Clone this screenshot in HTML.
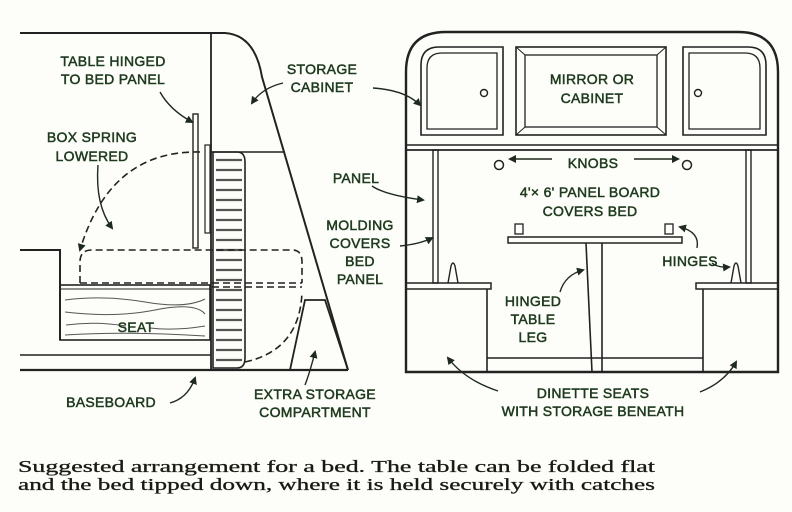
<!DOCTYPE html>
<html><head><meta charset="utf-8"><style>
html,body{margin:0;padding:0;background:#fdfdf9;}
svg{display:block}
.l{font-family:"Liberation Sans",sans-serif;font-size:14px;fill:#1e3a1e;stroke:#1e3a1e;stroke-width:0.5;text-anchor:middle;letter-spacing:0.3px}
.c{font-family:"Liberation Serif",serif;font-size:17px;fill:#1a1a14;stroke:#1a1a14;stroke-width:0.3}
</style></head><body>
<svg width="792" height="512" viewBox="0 0 792 512" xmlns="http://www.w3.org/2000/svg">
<defs><marker id="a" markerWidth="8" markerHeight="8" refX="6" refY="4" orient="auto" markerUnits="userSpaceOnUse"><path d="M0,0 L8,4 L0,8 z" fill="#1e2a1e"/></marker></defs>
<rect width="792" height="512" fill="#fdfdf9"/>
<g stroke="#222" stroke-width="2" fill="none">
<path d="M20,33 H225 Q255,35 262,77 L348,370"/>
<line x1="211" y1="33" x2="211" y2="370" stroke-width="1.8"/>
<line x1="211" y1="152" x2="285" y2="152" stroke-width="1.5"/>
<path d="M20,250 H60 V340"/>
<rect x="60" y="285" width="150" height="55" stroke-width="1.6"/>
<line x1="60" y1="289" x2="210" y2="289" stroke-width="1"/>
<g stroke-width="1" stroke="#555">
<path d="M65,300 q40,-5 80,2 t60,-3"/><path d="M65,312 q50,6 90,-2 t50,4"/><path d="M66,325 q30,-4 60,1"/><path d="M150,328 q25,3 55,-2"/><path d="M65,335 q60,-4 140,1"/>
</g>
<line x1="20" y1="355" x2="211" y2="355" stroke-width="1.6"/>
<line x1="20" y1="370" x2="348" y2="370" stroke-width="2.2"/>
<rect x="193" y="114" width="5" height="134" stroke-width="1.4"/>
<rect x="205" y="145" width="5" height="88" stroke-width="1.2"/>
<path d="M213,152 H237 Q245,152 245,162 V358 Q245,368 237,368 H213 z" stroke-width="1.6"/>
<g stroke-width="2.2" stroke="#555">
<line x1="216" y1="160" x2="242" y2="160"/><line x1="216" y1="170" x2="242" y2="170"/><line x1="216" y1="180" x2="242" y2="180"/><line x1="216" y1="190" x2="242" y2="190"/><line x1="216" y1="200" x2="242" y2="200"/><line x1="216" y1="210" x2="242" y2="210"/><line x1="216" y1="220" x2="242" y2="220"/><line x1="216" y1="230" x2="242" y2="230"/><line x1="216" y1="240" x2="242" y2="240"/><line x1="216" y1="250" x2="242" y2="250"/><line x1="216" y1="260" x2="242" y2="260"/><line x1="216" y1="270" x2="242" y2="270"/><line x1="216" y1="280" x2="242" y2="280"/><line x1="216" y1="290" x2="242" y2="290"/><line x1="216" y1="300" x2="242" y2="300"/><line x1="216" y1="310" x2="242" y2="310"/><line x1="216" y1="320" x2="242" y2="320"/><line x1="216" y1="330" x2="242" y2="330"/><line x1="216" y1="340" x2="242" y2="340"/><line x1="216" y1="350" x2="242" y2="350"/><line x1="216" y1="360" x2="242" y2="360"/>
</g>
<g stroke-dasharray="7,4" stroke-width="1.6">
<path d="M80,283 V262 Q80,250 92,250 H292 Q302,250 302,262 V283"/>
<line x1="80" y1="283" x2="302" y2="283"/>
<line x1="212" y1="287" x2="302" y2="287"/>
<path d="M200,152 Q110,150 80,250" marker-end="url(#a)"/>
<path d="M245,362 Q300,350 302,292"/>
</g>
<path d="M290,370 L305,300 H325 L348,370" stroke-width="1.8"/>
<path d="M406,372 V72 Q406,32 446,32 H738 Q778,32 778,72 V372 z" stroke-width="2.4"/>
<line x1="406" y1="145" x2="778" y2="145" stroke-width="1.5"/>
<line x1="406" y1="150" x2="778" y2="150" stroke-width="1.8"/>
<path d="M421,135 V65 Q421,47 439,47 H503 V135 z" stroke-width="1.6"/>
<path d="M427,129 V68 Q427,53 442,53 H497 V129 z" stroke-width="1.3"/>
<circle cx="484" cy="93" r="3.5" stroke-width="1.4"/>
<rect x="516" y="47" width="150" height="88" stroke-width="1.6"/>
<rect x="525" y="55" width="132" height="72" stroke-width="1.3"/>
<path d="M516,47 L525,55 M666,47 L657,55 M516,135 L525,127 M666,135 L657,127" stroke-width="1"/>
<path d="M683,135 V47 H748 Q766,47 766,65 V135 z" stroke-width="1.6"/>
<path d="M689,129 V53 H745 Q760,53 760,68 V129 z" stroke-width="1.3"/>
<circle cx="698" cy="93" r="3.5" stroke-width="1.4"/>
<rect x="433" y="150" width="5" height="133" stroke-width="1.4"/>
<rect x="746" y="150" width="5" height="133" stroke-width="1.4"/>
<circle cx="499" cy="165" r="4.5" stroke-width="1.5"/>
<circle cx="687" cy="165" r="4.5" stroke-width="1.5"/>
<rect x="406" y="283" width="85" height="6" stroke-width="1.5"/>
<path d="M487,289 V372" stroke-width="1.6"/>
<rect x="696" y="283" width="82" height="6" stroke-width="1.5"/>
<path d="M703,289 V372" stroke-width="1.6"/>
<line x1="487" y1="358" x2="703" y2="358" stroke-width="1.5"/>
<rect x="508" y="237" width="174" height="6" stroke-width="1.5"/>
<path d="M586,243 L592,372 M602,243 L602,372" stroke-width="1.6"/>
<rect x="515" y="224" width="8" height="10" stroke-width="1.3"/>
<rect x="665" y="224" width="8" height="10" stroke-width="1.3"/>
<path d="M448,283 L451,266 Q453,260 455,266 L458,283" stroke-width="1.4"/>
<path d="M731,283 L734,266 Q736,260 738,266 L741,283" stroke-width="1.4"/>
<g stroke="#1e2a1e" stroke-width="1.4" marker-end="url(#a)">
<path d="M160,92 Q170,110 192,122"/>
<path d="M283,83 Q262,88 252,103"/>
<path d="M373,88 Q405,90 420,105"/>
<path d="M98,165 Q95,205 112,228"/>
<path d="M372,186 Q385,195 423,200"/>
<path d="M400,246 Q420,244 432,238"/>
<path d="M170,403 Q188,398 195,378"/>
<path d="M305,385 Q310,372 315,352"/>
<path d="M552,159 H510"/>
<path d="M634,159 H678"/>
<path d="M697,248 Q700,232 680,227"/>
<path d="M712,263 Q718,268 729,267"/>
<path d="M560,292 Q565,275 583,270"/>
<path d="M498,391 Q465,380 448,358"/>
<path d="M700,392 Q725,382 736,362"/>
</g>
</g>
<g class="l">
<text x="113" y="66">TABLE HINGED</text><text x="113" y="84">TO BED PANEL</text>
<text x="322" y="74">STORAGE</text><text x="322" y="92">CABINET</text>
<text x="92" y="142">BOX SPRING</text><text x="92" y="161">LOWERED</text>
<text x="356" y="183">PANEL</text>
<text x="360" y="230">MOLDING</text><text x="360" y="248">COVERS</text><text x="360" y="266">BED</text><text x="360" y="284">PANEL</text>
<text x="136" y="332">SEAT</text>
<text x="111" y="407">BASEBOARD</text>
<text x="315" y="399">EXTRA STORAGE</text><text x="315" y="417">COMPARTMENT</text>
<text x="592" y="84">MIRROR OR</text><text x="592" y="103">CABINET</text>
<text x="593" y="168">KNOBS</text>
<text x="590" y="197">4'× 6' PANEL BOARD</text><text x="590" y="216">COVERS BED</text>
<text x="690" y="266">HINGES</text>
<text x="533" y="306">HINGED</text><text x="533" y="324">TABLE</text><text x="533" y="342">LEG</text>
<text x="593" y="398">DINETTE SEATS</text><text x="593" y="416">WITH STORAGE BENEATH</text>
</g>
<text class="c" x="18" y="472" textLength="637" lengthAdjust="spacingAndGlyphs">Suggested arrangement for a bed.  The table can be folded flat</text>
<text class="c" x="18" y="490" textLength="637" lengthAdjust="spacingAndGlyphs">and the bed tipped down, where it is held securely with catches</text>
</svg>
</body></html>
